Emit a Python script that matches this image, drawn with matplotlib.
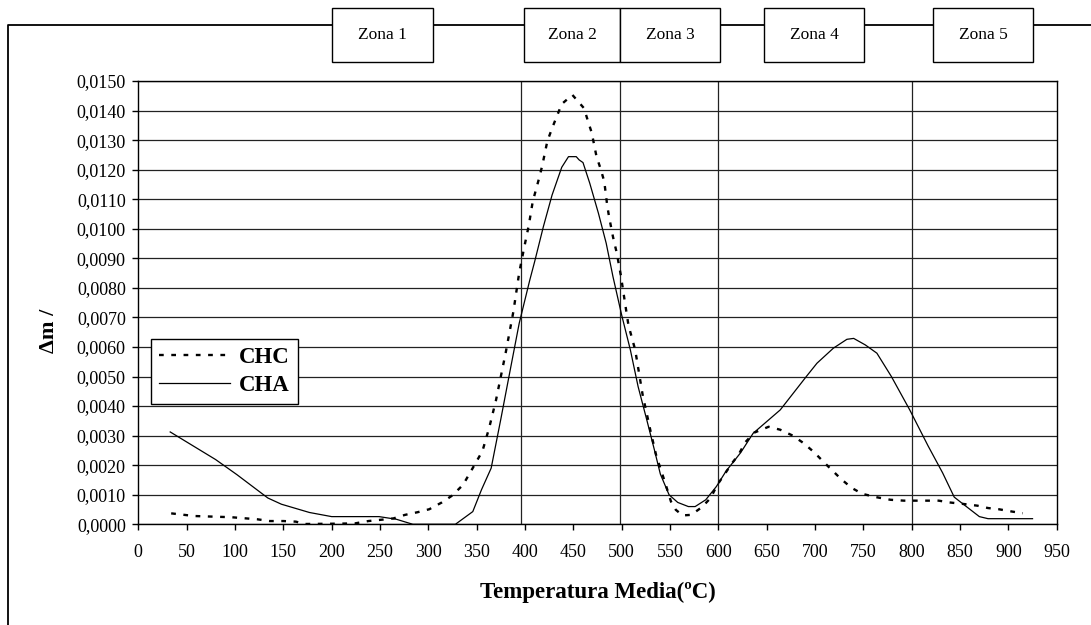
import matplotlib
matplotlib.use("Agg")
import matplotlib.pyplot as plt
from matplotlib.patches import Rectangle
from matplotlib.lines import Line2D
from matplotlib.ticker import FuncFormatter, MultipleLocator

# values (temperature in ºC, mass loss)
chc_t = [34, 58, 96, 123, 136, 150, 163, 172, 202, 224, 238, 253, 264, 276, 289,
         301, 314, 325, 336, 348, 356, 363, 370, 380, 388, 394, 399, 404, 408, 415,
         418, 423, 428, 438, 449, 461, 465, 469, 474, 478, 482, 485, 487, 491, 495,
         499, 503, 507, 514, 518, 522, 525, 530, 536, 540, 545, 551, 556, 563, 572,
         583, 592, 599, 607, 614, 621, 628, 637, 652, 664, 677, 688, 699, 708, 717,
         727, 738, 749, 763, 778, 792, 828, 839, 853, 868, 879, 890, 904, 915]
chc_v = [0.37, 0.28, 0.24, 0.17, 0.11, 0.11, 0.09, 0.01, 0.02, 0.03, 0.11, 0.16, 0.20, 0.32, 0.41,
         0.51, 0.74, 0.98, 1.34, 2.02, 2.48, 3.27, 4.2, 5.8, 7.2, 8.51, 9.34, 10.13, 10.92, 11.76,
         12.16, 12.95, 13.4, 14.22, 14.53, 14.08, 13.66, 13.25, 12.44, 12.05, 11.6, 10.8, 10.4, 9.73, 9.17,
         8.45, 7.59, 6.74, 5.9, 5.11, 4.32, 3.89, 3.13, 2.29, 1.9, 1.4, 0.77, 0.49, 0.3, 0.32,
         0.58, 0.89, 1.34, 1.72, 2.06, 2.36, 2.78, 3.1, 3.3, 3.2, 3.0, 2.75, 2.44, 2.14, 1.85,
         1.53, 1.23, 1.03, 0.92, 0.83, 0.8, 0.8, 0.74, 0.69, 0.63, 0.55, 0.51, 0.43, 0.375]

cha_t = [33, 80, 102, 134, 148, 177, 200, 249, 267, 284, 328, 346, 355, 365, 375,
         384, 394, 405, 410, 419, 428, 438, 445, 453, 456, 460, 467, 476, 484, 491,
         500, 509, 517, 526, 534, 540, 549, 558, 569, 576, 587, 598, 608, 623, 636,
         664, 691, 702, 719, 733, 740, 752, 764, 779, 798, 817, 832, 844, 853, 870,
         879, 925]
cha_v = [3.125, 2.19, 1.68, 0.89, 0.68, 0.40, 0.26, 0.26, 0.17, 0.0, 0.0, 0.43, 1.17, 1.9, 3.56,
         5.1, 6.8, 8.27, 8.89, 10.07, 11.14, 12.08, 12.44, 12.44, 12.33, 12.24, 11.54, 10.52, 9.51, 8.38,
         7.08, 5.9, 4.66, 3.53, 2.5, 1.7, 1.0, 0.74, 0.6, 0.6, 0.83, 1.28, 1.8, 2.42, 3.08,
         3.87, 5.0, 5.45, 5.96, 6.26, 6.29, 6.07, 5.79, 5.0, 3.87, 2.65, 1.74, 0.92, 0.69, 0.26,
         0.19, 0.19]
chc_v = [v / 1000 for v in chc_v]
cha_v = [v / 1000 for v in cha_v]

zone_lines = [396, 498, 600, 800]
zone_labels = ["Zona 1", "Zona 2", "Zona 3", "Zona 4", "Zona 5"]

W, H = 1091, 625
plt.rcParams["font.family"] = ["Liberation Serif", "DejaVu Serif"]


def fx(px):
    return px / W


def fy(py):
    return 1 - py / H


fig = plt.figure(figsize=(W / 100, H / 100), dpi=100)
ax = fig.add_axes([fx(138.3), fy(524.3), fx(1056.7 - 138.3), (524.3 - 81) / H])

ax.set_xlim(0, 950)
ax.set_ylim(0, 0.015)
ax.xaxis.set_major_locator(MultipleLocator(50))
ax.yaxis.set_major_locator(MultipleLocator(0.001))
ax.yaxis.set_major_formatter(FuncFormatter(lambda v, p: f"{v:.4f}".replace(".", ",")))
ax.tick_params(direction="out", length=4, width=1, labelsize=13, color="black")
ax.tick_params(axis="x", pad=10)
ax.tick_params(axis="y", pad=5)
ax.grid(axis="y", color="#222222", lw=0.9)
for s in ax.spines.values():
    s.set_linewidth(1.0)
    s.set_color("black")

for z in zone_lines:
    ax.axvline(z, color="#222222", lw=0.9, zorder=1)

ax.plot(chc_t, chc_v, color="black", lw=1.7, dashes=(2.0, 3.2), label="CHC", zorder=3)
ax.plot(cha_t, cha_v, color="black", lw=0.9, label="CHA", zorder=3)

ax.set_xlabel("Temperatura Media(ºC)", fontsize=16.5, fontweight="bold", labelpad=15)

leg = ax.legend(loc="upper left", bbox_to_anchor=(fx(150.7), fy(338.7)),
                bbox_transform=fig.transFigure, borderaxespad=0,
                fancybox=False, framealpha=1, edgecolor="black",
                prop={"weight": "bold", "size": 16.5}, handlelength=3.1,
                handletextpad=0.4, labelspacing=0.3, borderpad=0.35)
leg.get_frame().set_linewidth(1.0)

# y label
fig.text(fx(49), fy(331), "Δm /", rotation=90, ha="center", va="center",
         fontsize=16, fontweight="bold")

# outer chart frame (left and top edges)
fig.add_artist(Line2D([fx(7.6), fx(7.6), 1], [0, fy(25.4), fy(25.4)],
                      transform=fig.transFigure, color="black", lw=1.3))

# zone boxes
boxes = [(332, 433), (524, 620), (620, 720), (764, 864), (933, 1033)]
for (x0, x1), lab in zip(boxes, zone_labels):
    r = Rectangle((fx(x0), fy(62)), fx(x1 - x0), 54 / H, transform=fig.transFigure,
                  facecolor="white", edgecolor="black", lw=1.0, zorder=5)
    fig.add_artist(r)
    fig.text(fx((x0 + x1) / 2), fy(35), lab, ha="center", va="center",
             fontsize=12.5, zorder=6)

fig.savefig("out.png", dpi=100)
